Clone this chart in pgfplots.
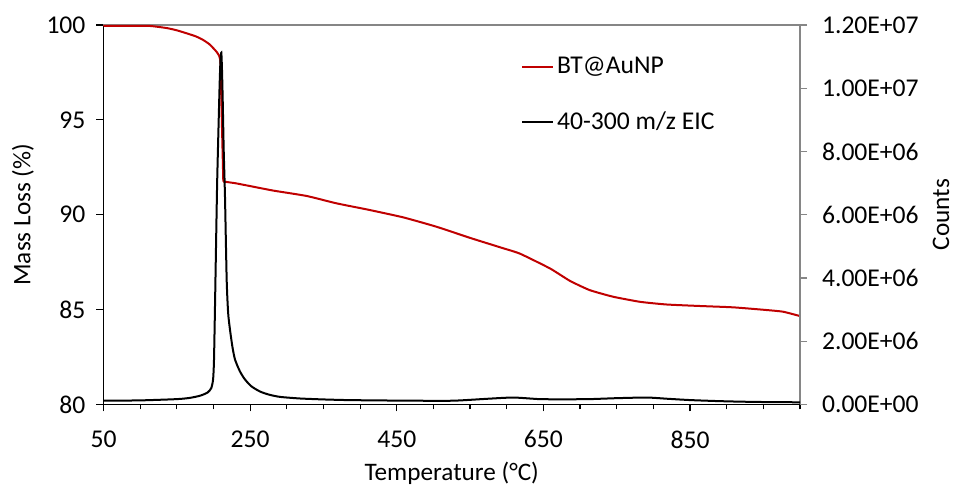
\documentclass[border=0pt]{standalone}
\usepackage{fontspec}
\setmainfont{Carlito}
\usepackage{pgfplots}
\pgfplotsset{compat=1.18}
\definecolor{exred}{RGB}{192,0,0}
\definecolor{axgray}{RGB}{134,134,134}
\begin{document}
\begin{tikzpicture}
\useasboundingbox (-51.75pt,-43.25pt) rectangle (426.25pt,202.25pt);
\pgfplotsset{
  every tick label/.append style={font=\fontsize{12.8}{15}\selectfont},
  every axis label/.append style={font=\fontsize{12.6}{15}\selectfont},
}
\begin{axis}[
  at={(0,0)}, anchor=south west,
  scale only axis, width=348.25pt, height=189.75pt,
  xmin=50, xmax=1000, ymin=80, ymax=100,
  axis x line*=bottom, axis y line*=left,
  axis line style={black, line width=0.6pt},
  tick align=outside,
  major tick length=3.5pt, minor tick length=2.5pt,
  xtick={50,250,450,650,850},
  xticklabels={50,250,450,650,850},
  minor xtick={100,150,200,300,350,400,500,550,600,700,750,800,900,950,1000},
  ytick={80,85,90,95,100},
  yticklabels={80,85,90,95,100},
  tick style={black, line width=0.6pt},
  xticklabel style={yshift=-6pt},
  yticklabel style={xshift=-2pt},
  xlabel={Temperature (°C)},
  ylabel={Mass Loss (\%)},
  xlabel style={at={(axis description cs:0.5,0)}, anchor=center, yshift=-34.5pt},
  ylabel style={at={(axis description cs:0,0.5)}, anchor=center, yshift=40.25pt},
  clip=false,
]
\draw[axgray, line width=0.6pt] (rel axis cs:0,1) -- (rel axis cs:1,1);
\addplot[exred, line width=1pt, smooth, tension=0.3] coordinates {
(50,99.95) (77,99.96) (113,99.95) (136,99.84) (150,99.72) (163.5,99.56) (176,99.40) (186,99.21)
(194,99.00) (200,98.77) (205,98.55) (208,98.35) (209.5,98.1)
};
\addplot[exred, line width=1pt] coordinates {
(209.5,98.1) (210.5,96.5) (211.5,94.8) (212.5,93.2) (213.4,91.75)
};
\addplot[exred, line width=1pt, smooth, tension=0.3] coordinates {
(213.4,91.75) (230,91.66) (254,91.48) (282,91.27) (327,90.99) (368,90.60) (413,90.25)
(459,89.86) (504,89.37) (550,88.78) (593,88.26) (618,87.95) (659,87.17) (686,86.52)
(713,86.03) (745,85.68) (782,85.41) (818,85.27) (864,85.19) (909,85.12) (954,84.98)
(977,84.89) (1000,84.66)
};
\end{axis}
\begin{axis}[
  at={(0,0)}, anchor=south west,
  scale only axis, width=348.25pt, height=189.75pt,
  xmin=50, xmax=1000, ymin=0, ymax=12000000,
  axis x line=none, axis y line*=right,
  axis line style={axgray, line width=0.6pt},
  tick align=outside,
  major tick length=3.5pt,
  tick style={axgray, line width=0.6pt},
  scaled y ticks=false,
  ytick={0,2000000,4000000,6000000,8000000,10000000,12000000},
  yticklabels={0.00E+00,2.00E+06,4.00E+06,6.00E+06,8.00E+06,1.00E+07,1.20E+07},
  yticklabel style={xshift=4pt},
  ylabel={Counts},
  ylabel style={at={(axis description cs:1,0.5)}, anchor=center, yshift=-70.5pt},
  legend style={at={(axis description cs:0.599,0.924)}, anchor=north west,
    draw=none, fill=none, font=\fontsize{12.8}{15}\selectfont,
    row sep=14.6pt, inner sep=0pt,
    nodes={inner sep=1.5pt}},
  legend cell align=left,
  legend image code/.code={\draw[#1] (0pt,0pt) -- (15.5pt,0pt);},
  clip=false,
]
\addlegendimage{exred, line width=1pt}
\addlegendentry{BT@AuNP}
\addplot[black, line width=1pt, smooth, tension=0.4] coordinates {
(50,120000) (100,130000) (150,170000) (168,210000) (182,280000) (192,380000) (197,520000)
(199.5,800000) (200.7,1400000) (202,3000000) (203.4,4900000) (205,7000000) (206.8,8700000)
(208.5,10200000) (209.6,10900000) (210.7,11120000) (211.6,10600000) (212.6,9630000)
(214,8000000) (215.7,6580000) (218,3950000) (220,2900000) (222.5,2370000) (226,1800000)
(229.4,1420000) (236,1050000) (243,790000) (252,570000) (263.5,410000) (276,310000)
(291,240000) (318,190000) (350,160000) (382,140000) (420,130000) (473,120000) (527,120000)
(573,180000) (609,220000) (645,170000) (680,165000) (713,170000) (750,200000) (791,220000)
(820,180000) (850,140000) (885,110000) (918,90000) (960,75000) (1000,70000)
};
\addlegendentry{40-300 m/z EIC}
\end{axis}
\end{tikzpicture}
\end{document}
